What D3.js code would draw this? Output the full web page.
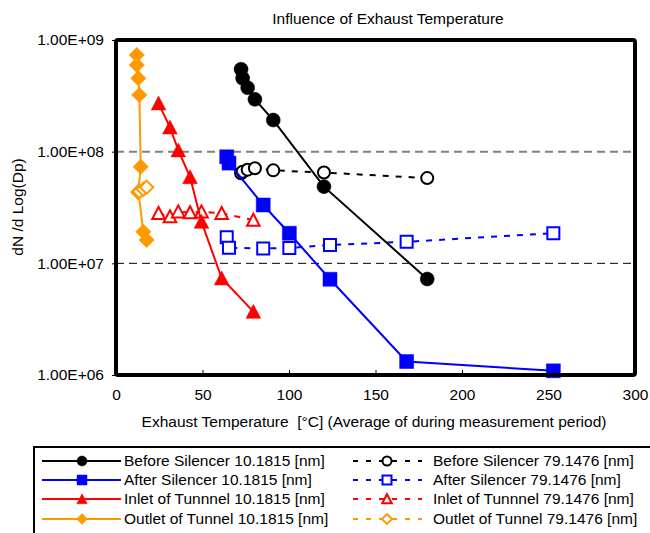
<!DOCTYPE html>
<html><head><meta charset="utf-8">
<script src="https://cdn.jsdelivr.net/npm/d3@7"></script>
<style>
html,body{margin:0;padding:0;background:#fff;}
svg{display:block;font-family:"Liberation Sans",Arial,sans-serif;}
text{white-space:pre;}
</style></head>
<body><svg id="c" width="650" height="533"></svg>
<script>
// ---- data ----
const title = "Influence of Exhaust Temperature";
const xLabel = "Exhaust Temperature  [\u00B0C] (Average of during measurement period)";
const yLabel = "dN /d Log(Dp)";
const xTicks = [0, 50, 100, 150, 200, 250, 300];
const yTicks = [1e6, 1e7, 1e8, 1e9];
const yTickLabels = ["1.00E+06", "1.00E+07", "1.00E+08", "1.00E+09"];

const beforeTemp = [72.3, 73.2, 76.1, 80.3, 90.9, 120.2, 179.9];
const before10 = [5.47e8, 4.54e8, 3.74e8, 2.94e8, 1.92e8, 4.86e7, 7.24e6];
const before79 = [6.4e7, 6.6e7, 6.9e7, 7.1e7, 6.8e7, 6.5e7, 5.8e7];

const afterTemp = [64.0, 65.3, 85.1, 100.2, 123.7, 168.0, 252.8];
const after10 = [9.0e7, 7.9e7, 3.33e7, 1.86e7, 7.2e6, 1.32e6, 1.09e6];
const after79 = [1.71e7, 1.38e7, 1.36e7, 1.37e7, 1.46e7, 1.56e7, 1.86e7];

const inletTemp = [24.6, 31.2, 36.0, 42.8, 49.4, 61.1, 79.4];
const inlet10 = [2.71e8, 1.65e8, 1.03e8, 5.93e7, 2.36e7, 7.35e6, 3.69e6];
const inlet79 = [2.81e7, 2.62e7, 2.9e7, 2.85e7, 2.9e7, 2.81e7, 2.44e7];

const outletTemp10 = [12.0, 12.0, 12.9, 13.5, 14.3, 12.9, 15.8, 17.7];
const outlet10 = [7.34e8, 5.98e8, 4.54e8, 3.22e8, 7.33e7, 4.38e7, 1.92e7, 1.62e7];
const outletTemp79 = [12.9, 13.5, 15.8, 17.7];
const outlet79 = [4.3e7, 4.4e7, 4.6e7, 4.8e7];

const seriesNames = [
  "Before Silencer 10.1815 [nm]", "After Silencer 10.1815 [nm]",
  "Inlet of Tunnnel 10.1815 [nm]", "Outlet of Tunnel 10.1815 [nm]",
  "Before Silencer 79.1476 [nm]", "After Silencer 79.1476 [nm]",
  "Inlet of Tunnnel 79.1476 [nm]", "Outlet of Tunnel 79.1476 [nm]"
];
const seriesColors = ["#000000", "#0000FF", "#FF0000", "#FF9900"];
const seriesShapes = ["circle", "square", "triangle", "diamond"];

const series = [
  {name: seriesNames[4], x: beforeTemp, y: before79, c: 0, open: true},
  {name: seriesNames[5], x: afterTemp, y: after79, c: 1, open: true},
  {name: seriesNames[6], x: inletTemp, y: inlet79, c: 2, open: true},
  {name: seriesNames[0], x: beforeTemp, y: before10, c: 0, open: false},
  {name: seriesNames[1], x: afterTemp, y: after10, c: 1, open: false},
  {name: seriesNames[2], x: inletTemp, y: inlet10, c: 2, open: false},
  {name: seriesNames[3], x: outletTemp10, y: outlet10, c: 3, open: false},
  {name: seriesNames[7], x: outletTemp79, y: outlet79, c: 3, open: true}
];

// ---- drawing ----
const FS = 15.5;
const svg = d3.select("#c");
const L = 116, R = 635, T = 40, B = 375;
const x = d3.scaleLinear().domain([0, 300]).range([L, R]);
const y = d3.scaleLog().domain([1e6, 1e9]).range([B, T]);

function markerPath(shape, s) {
  const h = s / 2;
  if (shape === "circle") return d3.symbol(d3.symbolCircle, Math.PI * h * h)();
  if (shape === "square") return `M${-h},${-h}H${h}V${h}H${-h}Z`;
  if (shape === "triangle") return `M0,${-h * 1.05}L${h * 1.05},${h * 0.95}L${-h * 1.05},${h * 0.95}Z`;
  const d = h * 1.1;
  return `M0,${-d}L${d},0L0,${d}L${-d},0Z`;
}

// title
svg.append("text").attr("x", 388).attr("y", 24).attr("text-anchor", "middle")
  .attr("font-size", FS).text(title);

// gridlines
svg.append("line").attr("x1", L).attr("x2", R).attr("y1", y(1e8)).attr("y2", y(1e8))
  .attr("stroke", "#808080").attr("stroke-width", 2).attr("stroke-dasharray", "8,5");
svg.append("line").attr("x1", L).attr("x2", R).attr("y1", y(1e7)).attr("y2", y(1e7))
  .attr("stroke", "#000").attr("stroke-width", 1).attr("stroke-dasharray", "8,5");

// axes
const xAxis = d3.axisBottom(x).tickValues(xTicks).tickSize(-5).tickPadding(14);
const gx = svg.append("g").attr("transform", `translate(0,${B})`).call(xAxis);
gx.select(".domain").remove();
gx.selectAll("text").attr("font-size", FS).attr("font-family", "Liberation Sans, Arial, sans-serif").attr("fill", "#000");
gx.selectAll("line").attr("stroke", "#000");

const yAxis = d3.axisLeft(y).tickValues(yTicks).tickSize(4).tickPadding(8)
  .tickFormat((d, i) => yTickLabels[i]);
const gy = svg.append("g").attr("transform", `translate(${L},0)`).call(yAxis);
gy.select(".domain").remove();
gy.selectAll("text").attr("font-size", FS).attr("font-family", "Liberation Sans, Arial, sans-serif").attr("fill", "#000");
gy.selectAll("line").attr("stroke", "#000");

svg.append("text").attr("x", 374).attr("y", 427).attr("text-anchor", "middle")
  .attr("font-size", FS).text(xLabel);
svg.append("text").attr("transform", "translate(23,207) rotate(-90)").attr("text-anchor", "middle")
  .attr("font-size", FS).text(yLabel);

// series
const line = d3.line().x(d => x(d[0])).y(d => y(d[1]));
series.forEach(s => {
  const col = seriesColors[s.c];
  const pts = s.x.map((v, i) => [v, s.y[i]]);
  svg.append("path").attr("d", line(pts)).attr("fill", "none").attr("stroke", col)
    .attr("stroke-width", 2).attr("stroke-dasharray", s.open ? "6,7" : null);
  const g = svg.append("g");
  g.selectAll("path").data(pts).join("path")
    .attr("transform", d => `translate(${x(d[0])},${y(d[1])})`)
    .attr("d", markerPath(seriesShapes[s.c], s.open ? 12 : 14))
    .attr("fill", s.open ? "#fff" : col)
    .attr("stroke", col).attr("stroke-width", s.open ? 2 : 0.5);
});

// frame
svg.append("rect").attr("x", L).attr("y", T).attr("width", R - L).attr("height", B - T)
  .attr("rx", 2).attr("fill", "none").attr("stroke", "#000").attr("stroke-width", 4);

// legend
const lg = svg.append("g");
lg.append("rect").attr("x", 34).attr("y", 447).attr("width", 640).attr("height", 100)
  .attr("fill", "#fff").attr("stroke", "#000").attr("stroke-width", 2);
const rowsY = [461, 480, 499, 519];
for (let i = 0; i < 4; i++) {
  const col = seriesColors[i];
  const ry = rowsY[i];
  lg.append("line").attr("x1", 42).attr("x2", 121).attr("y1", ry).attr("y2", ry)
    .attr("stroke", col).attr("stroke-width", 2);
  lg.append("path").attr("transform", `translate(82,${ry})`).attr("d", markerPath(seriesShapes[i], 10))
    .attr("fill", col).attr("stroke", col).attr("stroke-width", 0.5);
  lg.append("text").attr("x", 124).attr("y", ry + 5).attr("font-size", FS).text(seriesNames[i]);
  lg.append("line").attr("x1", 353).attr("x2", 422).attr("y1", ry).attr("y2", ry)
    .attr("stroke", col).attr("stroke-width", 2).attr("stroke-dasharray", "5,8");
  lg.append("path").attr("transform", `translate(387,${ry})`).attr("d", markerPath(seriesShapes[i], 9))
    .attr("fill", "#fff").attr("stroke", col).attr("stroke-width", 2);
  lg.append("text").attr("x", 433).attr("y", ry + 5).attr("font-size", FS).text(seriesNames[i + 4]);
}
</script></body></html>
